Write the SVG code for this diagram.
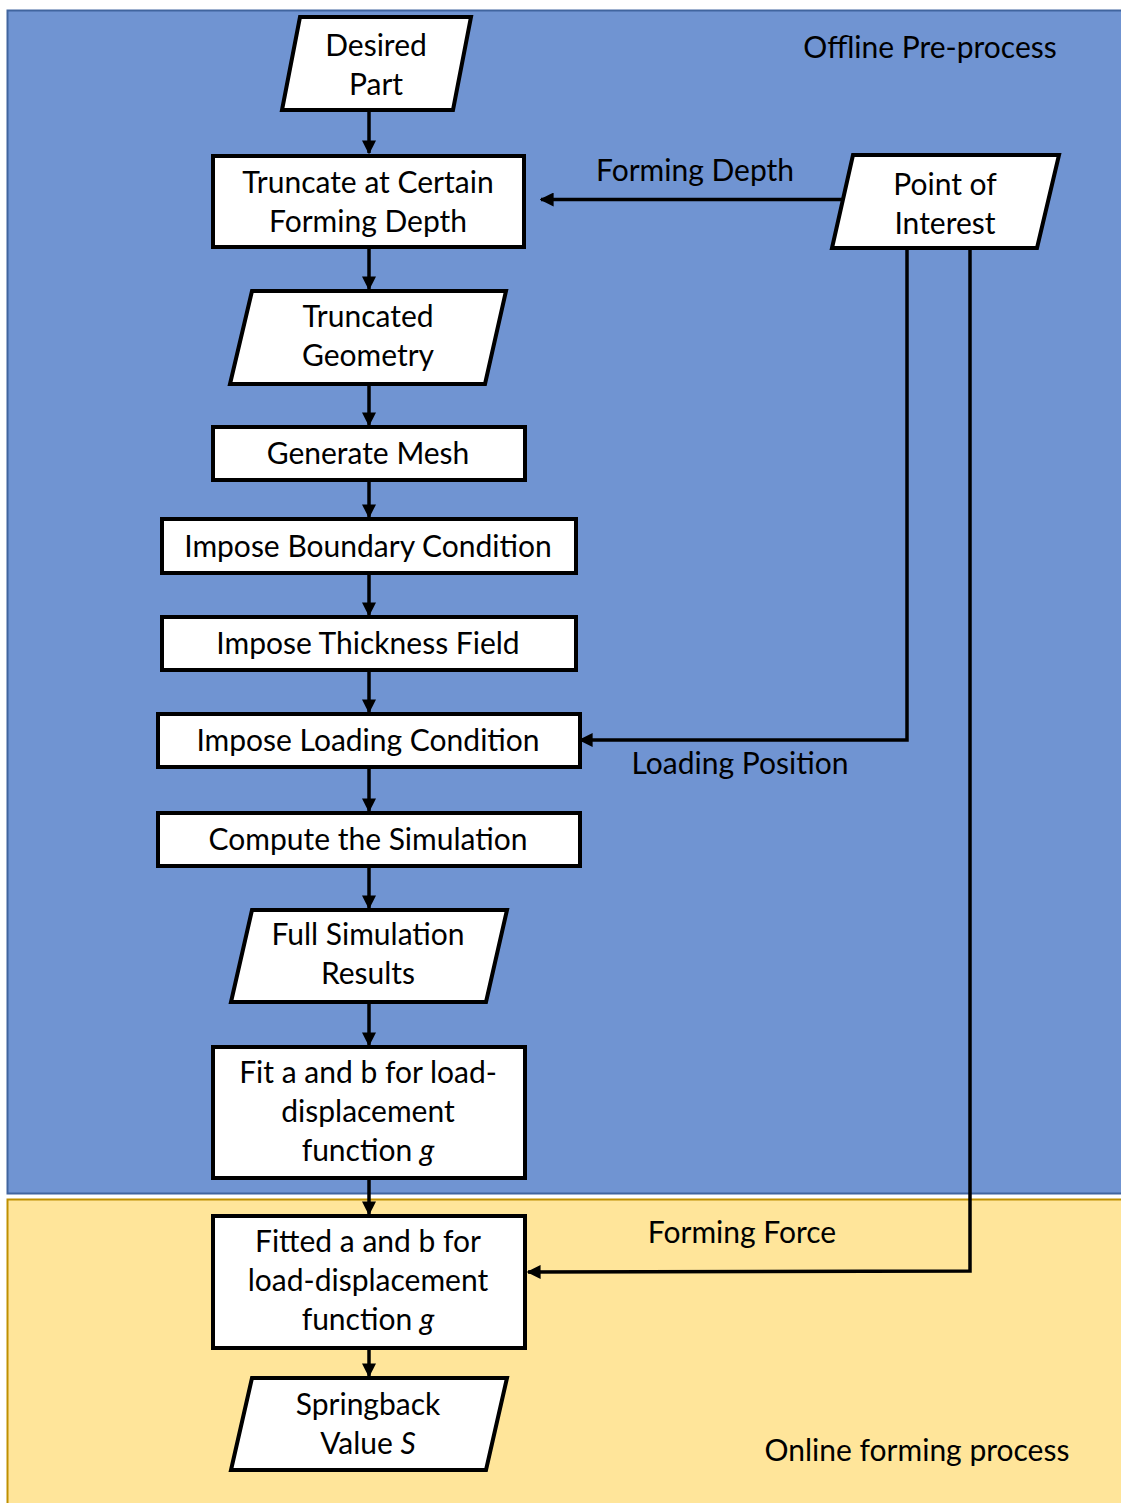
<svg xmlns="http://www.w3.org/2000/svg" width="1121" height="1503" viewBox="0 0 1121 1503">
  <style>
    .box { fill: #ffffff; stroke: #000000; stroke-width: 4; stroke-linejoin: miter; }
    .lbl { font-family: Lato, "Open Sans", "Liberation Sans", sans-serif; font-size: 30px; fill: #000000; text-anchor: middle; }
    .it { font-style: italic; }
    .wire { fill: none; stroke: #000000; stroke-width: 3.5; }
  </style>
  <defs>
    <marker id="arrow" viewBox="0 0 10 10" refX="9" refY="5" markerWidth="4" markerHeight="4" orient="auto" markerUnits="strokeWidth">
      <path d="M0,0 L10,5 L0,10 Z" fill="#000000"/>
    </marker>
  </defs>

  <rect width="1121" height="1503" fill="#ffffff"/>

  <!-- process zones -->
  <g id="zone-offline">
    <rect x="7.5" y="10.5" width="1120" height="1183" fill="#7094d2" stroke="#41659f" stroke-width="2"/>
    <text class="lbl" x="930" y="58">Offline Pre-process</text>
  </g>
  <g id="zone-online">
    <rect x="7.5" y="1199.5" width="1120" height="310" fill="#ffe59a" stroke="#bf9000" stroke-width="2"/>
    <text class="lbl" x="917" y="1461">Online forming process</text>
  </g>

  <!-- connectors -->
  <g id="connectors">
    <line class="wire" x1="369" y1="110" x2="369" y2="153" marker-end="url(#arrow)"/>
    <line class="wire" x1="369" y1="248" x2="369" y2="289" marker-end="url(#arrow)"/>
    <line class="wire" x1="369" y1="384" x2="369" y2="425" marker-end="url(#arrow)"/>
    <line class="wire" x1="369" y1="481" x2="369" y2="517" marker-end="url(#arrow)"/>
    <line class="wire" x1="369" y1="574" x2="369" y2="615" marker-end="url(#arrow)"/>
    <line class="wire" x1="369" y1="671" x2="369" y2="712" marker-end="url(#arrow)"/>
    <line class="wire" x1="369" y1="768" x2="369" y2="811" marker-end="url(#arrow)"/>
    <line class="wire" x1="369" y1="867" x2="369" y2="908" marker-end="url(#arrow)"/>
    <line class="wire" x1="369" y1="1003" x2="369" y2="1045" marker-end="url(#arrow)"/>
    <line class="wire" x1="369" y1="1179" x2="369" y2="1214" marker-end="url(#arrow)"/>
    <line class="wire" x1="369" y1="1349" x2="369" y2="1376" marker-end="url(#arrow)"/>

    <line class="wire" x1="845" y1="199.5" x2="541" y2="199.5" marker-end="url(#arrow)"/>
    <text class="lbl" x="695" y="181">Forming Depth</text>

    <polyline class="wire" points="907,248 907,740 580,740" marker-end="url(#arrow)"/>
    <text class="lbl" x="740" y="774">Loading Position</text>

    <polyline class="wire" points="970,248 970,1271 528,1272" marker-end="url(#arrow)"/>
    <text class="lbl" x="742" y="1243">Forming Force</text>
  </g>

  <!-- nodes -->
  <g id="desired-part">
    <polygon class="box" points="300,17 471,17 453,110 282,110"/>
    <text class="lbl" x="376" y="56">Desired</text>
    <text class="lbl" x="376" y="95">Part</text>
  </g>
  <g id="truncate">
    <rect class="box" x="213" y="156" width="311" height="91"/>
    <text class="lbl" x="368" y="193">Truncate at Certain</text>
    <text class="lbl" x="368" y="232">Forming Depth</text>
  </g>
  <g id="point-of-interest">
    <polygon class="box" points="853,155 1059,155 1037,248 832,248"/>
    <text class="lbl" x="945" y="195">Point of</text>
    <text class="lbl" x="945" y="234">Interest</text>
  </g>
  <g id="truncated-geometry">
    <polygon class="box" points="252,291 506,291 485,384 230,384"/>
    <text class="lbl" x="368" y="327">Truncated</text>
    <text class="lbl" x="368" y="366">Geometry</text>
  </g>
  <g id="generate-mesh">
    <rect class="box" x="213" y="427" width="312" height="53"/>
    <text class="lbl" x="368" y="464">Generate Mesh</text>
  </g>
  <g id="boundary-condition">
    <rect class="box" x="162" y="519" width="414" height="54"/>
    <text class="lbl" x="368" y="557">Impose Boundary Condition</text>
  </g>
  <g id="thickness-field">
    <rect class="box" x="162" y="617" width="414" height="53"/>
    <text class="lbl" x="368" y="654">Impose Thickness Field</text>
  </g>
  <g id="loading-condition">
    <rect class="box" x="158" y="714" width="422" height="53"/>
    <text class="lbl" x="368" y="751">Impose Loading Condition</text>
  </g>
  <g id="compute-simulation">
    <rect class="box" x="158" y="813" width="422" height="53"/>
    <text class="lbl" x="368" y="850">Compute the Simulation</text>
  </g>
  <g id="simulation-results">
    <polygon class="box" points="252,910 507,910 486,1002 231,1002"/>
    <text class="lbl" x="368" y="945">Full Simulation</text>
    <text class="lbl" x="368" y="984">Results</text>
  </g>
  <g id="fit-ab">
    <rect class="box" x="213" y="1047" width="312" height="131"/>
    <text class="lbl" x="368" y="1083">Fit a and b for load-</text>
    <text class="lbl" x="368" y="1122">displacement</text>
    <text class="lbl" x="368" y="1161">function <tspan class="it">g</tspan></text>
  </g>
  <g id="fitted-ab">
    <rect class="box" x="213" y="1216" width="312" height="132"/>
    <text class="lbl" x="368" y="1252">Fitted a and b for</text>
    <text class="lbl" x="368" y="1291">load-displacement</text>
    <text class="lbl" x="368" y="1330">function <tspan class="it">g</tspan></text>
  </g>
  <g id="springback">
    <polygon class="box" points="252,1378 507,1378 486,1470 231,1470"/>
    <text class="lbl" x="368" y="1415">Springback</text>
    <text class="lbl" x="368" y="1454">Value <tspan class="it">S</tspan></text>
  </g>
</svg>
